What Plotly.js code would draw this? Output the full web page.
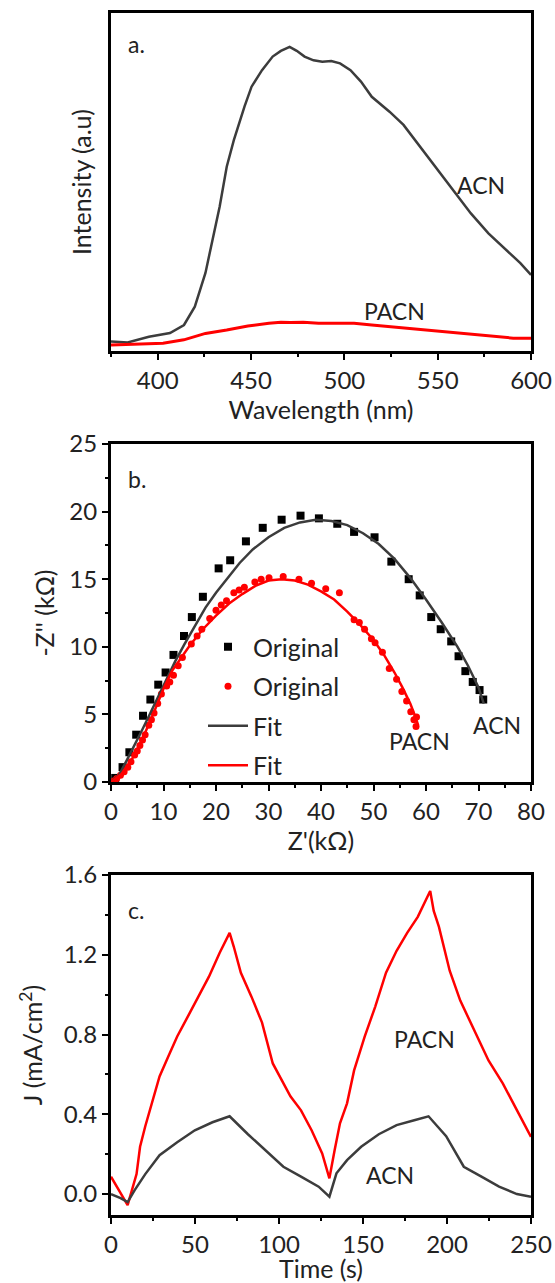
<!DOCTYPE html>
<html>
<head>
<meta charset="utf-8">
<script src="https://cdn.plot.ly/plotly-3.0.1.min.js"></script>
<style>html,body{margin:0;padding:0;background:#fff;}#chart{width:555px;height:1283px;}</style>
</head>
<body>
<div id="chart"></div>
<script>
// ---- Panel a: photoluminescence ----
const wl_acn  = [375, 383.9, 395.3, 406.6, 414.1, 419.9, 425.6, 429.4, 433.2, 437.0, 440.8, 446.5, 450.3, 455.9, 461.6, 466, 470.7, 474.5, 478.7, 483.5, 488.2, 493, 497.7, 503.3, 508.9, 514.7, 524.2, 531.7, 539.3, 548.8, 558.3, 567.8, 577.2, 586.7, 594.3, 600];
const int_acn = [2.8, 2.5, 4.2, 5.3, 7.7, 13.1, 23.1, 32.8, 42.7, 54.5, 62.4, 72.3, 78.2, 83.1, 87.1, 88.8, 90.0, 88.8, 87.1, 86.0, 85.6, 85.8, 85.1, 83.1, 79.7, 75.2, 70.8, 66.9, 61.4, 54.5, 47.6, 40.7, 34.8, 29.9, 26.0, 22.5];
const wl_pacn  = [375, 390, 402.9, 414, 425.6, 437, 448.3, 459.6, 466, 471.1, 478, 486.2, 495, 505.2, 514.7, 524, 533.6, 543, 552.6, 562, 571.6, 581, 590.5, 600];
const int_pacn = [1.8, 2.0, 2.3, 3.3, 5.2, 6.2, 7.4, 8.2, 8.5, 8.4, 8.5, 8.2, 8.2, 8.2, 7.7, 7.2, 6.7, 6.2, 5.7, 5.2, 4.7, 4.2, 3.8, 3.8];

// ---- Panel b: Nyquist plot ----
const zr_acn_orig = [0.8, 2.2, 3.5, 4.8, 6.1, 7.5, 9.0, 10.4, 11.9, 13.9, 15.4, 17.5, 20.5, 22.7, 25.7, 28.9, 32.5, 36.1, 39.6, 43.1, 46.3, 50.2, 53.4, 56.7, 58.8, 61.0, 62.8, 64.8, 66.2, 67.5, 68.9, 70.2, 70.9];
const zi_acn_orig = [0.3, 1.1, 2.2, 3.5, 4.9, 6.1, 7.2, 8.1, 9.4, 10.8, 12.2, 13.7, 15.8, 16.4, 17.8, 18.8, 19.4, 19.7, 19.5, 19.1, 18.5, 18.1, 16.3, 15.0, 13.8, 12.2, 11.3, 10.4, 9.3, 8.2, 7.4, 6.8, 6.1];
const zr_pacn_orig = [0.6, 1.1, 1.8, 2.5, 3.2, 3.8, 4.5, 5.0, 5.5, 6.0, 6.5, 7.2, 7.7, 8.2, 8.9, 9.6, 10.6, 11.2, 11.9, 12.8, 13.6, 15.3, 16.4, 17.3, 18.8, 20.0, 21.0, 22.0, 23.4, 24.4, 25.4, 27.4, 28.6, 30.1, 32.8, 35.8, 38.2, 40.9, 43.5, 46.3, 47.3, 48.3, 49.6, 50.3, 51.7, 53.0, 54.4, 55.4, 56.3, 57.1, 57.7, 58.1, 58.2];
const zi_pacn_orig = [0.1, 0.25, 0.5, 0.75, 1.1, 1.5, 2.0, 2.3, 2.7, 3.1, 3.5, 4.2, 4.6, 5.1, 5.8, 6.5, 7.1, 7.4, 7.9, 8.6, 9.2, 10.2, 10.8, 11.3, 12.1, 12.7, 13.1, 13.4, 14.0, 14.2, 14.4, 14.8, 15.0, 15.1, 15.2, 15.0, 14.7, 14.3, 14.0, 12.0, 11.8, 11.3, 10.6, 10.3, 9.6, 8.4, 7.6, 6.7, 6.0, 5.2, 4.6, 4.1, 4.8];
const zr_acn_fit = [0, 1.5, 3, 4.5, 6, 7.5, 9, 10.6, 12.2, 14, 16, 18, 20, 22, 24.5, 27, 30, 33, 36, 39, 42, 45, 48, 51, 54, 57, 60, 63, 66, 68, 70, 71];
const zi_acn_fit = [0, 0.5, 1.6, 2.7, 3.9, 5.1, 6.3, 7.6, 8.9, 10.2, 11.6, 12.9, 14.0, 15.0, 16.2, 17.2, 18.1, 18.8, 19.2, 19.4, 19.3, 19.0, 18.4, 17.6, 16.5, 15.1, 13.5, 11.8, 10.0, 8.6, 7.0, 5.8];
const zr_pacn_fit = [0, 2, 4, 6, 8, 10, 11.6, 13, 15, 17.5, 20, 22.5, 25, 27.5, 30, 32.5, 35, 37.5, 40, 42.5, 45, 47.5, 50, 52, 54, 55.5, 57, 58, 58.5];
const zi_pacn_fit = [0, 0.6, 1.7, 3.2, 5.0, 6.9, 8.2, 9.0, 10.1, 11.3, 12.3, 13.2, 13.9, 14.5, 14.9, 15.0, 14.9, 14.6, 14.1, 13.5, 12.6, 11.6, 10.5, 9.4, 8.1, 7.0, 5.8, 4.8, 4.2];

// ---- Panel c: photocurrent ----
const t_pacn = [0, 9.9, 15.2, 17.3, 20.4, 24.6, 28.9, 34.1, 39.4, 45.7, 52, 58.3, 64.7, 70.6, 73.1, 77.3, 83.6, 89.9, 96.3, 102.6, 106.8, 113.1, 119.4, 125.7, 130, 133.1, 136.3, 140.5, 144.7, 151, 157.3, 163.7, 170, 176.3, 182.6, 190, 192.1, 195.2, 201.6, 207.9, 216.3, 224.7, 233.2, 241.6, 250];
const j_pacn = [0.087, -0.055, 0.10, 0.237, 0.34, 0.47, 0.59, 0.69, 0.79, 0.89, 0.99, 1.09, 1.21, 1.31, 1.24, 1.11, 0.99, 0.86, 0.655, 0.555, 0.49, 0.42, 0.32, 0.204, 0.079, 0.22, 0.355, 0.455, 0.62, 0.79, 0.94, 1.11, 1.22, 1.31, 1.39, 1.52, 1.42, 1.34, 1.12, 0.97, 0.82, 0.67, 0.555, 0.42, 0.287];
const t_acn = [0, 5.7, 9.9, 14.1, 20.4, 28.9, 39.4, 49.9, 60.4, 70.6, 81.5, 92, 102.6, 113.1, 123.6, 130, 134.2, 140.5, 148.9, 159.4, 170, 180.5, 189, 199.5, 210, 220.5, 231, 241.6, 250];
const j_acn = [0.0, -0.02, -0.04, 0.02, 0.10, 0.195, 0.26, 0.32, 0.36, 0.39, 0.30, 0.22, 0.137, 0.087, 0.037, -0.013, 0.104, 0.17, 0.237, 0.30, 0.346, 0.37, 0.39, 0.29, 0.137, 0.087, 0.037, 0.0, -0.013];

const GRAY = '#3c3c3c', RED = '#ff0000', TXT = '#222222';
const FONT = 'Lato, "Open Sans", sans-serif';

const traces = [
  {x: wl_acn, y: int_acn, xaxis: 'x', yaxis: 'y', mode: 'lines', line: {color: GRAY, width: 2.5}, showlegend: false, name: 'ACN'},
  {x: wl_pacn, y: int_pacn, xaxis: 'x', yaxis: 'y', mode: 'lines', line: {color: RED, width: 3}, showlegend: false, name: 'PACN'},
  {x: zr_acn_orig, y: zi_acn_orig, xaxis: 'x2', yaxis: 'y2', mode: 'markers', marker: {symbol: 'square', size: 8, color: '#000'}, name: 'Original', legendgroup: 'g1'},
  {x: zr_pacn_orig, y: zi_pacn_orig, xaxis: 'x2', yaxis: 'y2', mode: 'markers', marker: {symbol: 'circle', size: 7, color: RED}, name: 'Original', legendgroup: 'g2'},
  {x: zr_acn_fit, y: zi_acn_fit, xaxis: 'x2', yaxis: 'y2', mode: 'lines', line: {color: GRAY, width: 2.5}, name: 'Fit', legendgroup: 'g3'},
  {x: zr_pacn_fit, y: zi_pacn_fit, xaxis: 'x2', yaxis: 'y2', mode: 'lines', line: {color: RED, width: 2.5}, name: 'Fit', legendgroup: 'g4'},
  {x: t_pacn, y: j_pacn, xaxis: 'x3', yaxis: 'y3', mode: 'lines', line: {color: RED, width: 2.5}, showlegend: false, name: 'PACN'},
  {x: t_acn, y: j_acn, xaxis: 'x3', yaxis: 'y3', mode: 'lines', line: {color: GRAY, width: 2.5}, showlegend: false, name: 'ACN'}
];

const MINOR = {ticks: 'outside', ticklen: 3, tickwidth: 2, tickcolor: '#000'};
function ax(extra) {
  return Object.assign({
    showline: true, linecolor: '#000', linewidth: 3, mirror: true,
    ticks: 'outside', ticklen: 6, tickwidth: 2, tickcolor: '#000',
    showgrid: false, zeroline: false, fixedrange: true,
    tickfont: {family: FONT, size: 24, color: TXT}
  }, extra);
}
const tfont = {family: FONT, size: 25, color: TXT};
const afont = {family: FONT, size: 23, color: TXT};
const W = 555, H = 1283;
const xd = [111 / W, 531 / W];

const layout = {
  width: W, height: H,
  margin: {l: 0, r: 0, t: 0, b: 0},
  paper_bgcolor: '#fff', plot_bgcolor: '#fff',
  font: {family: FONT, color: TXT},
  showlegend: true,
  legend: {
    x: 203 / W, y: 1 - 624 / H, xanchor: 'left', yanchor: 'top',
    bgcolor: 'rgba(0,0,0,0)', font: {family: FONT, size: 25, color: TXT},
    itemwidth: 40, tracegroupgap: 4
  },
  xaxis: ax({domain: xd, range: [375, 600], dtick: 50, tick0: 400, anchor: 'y',
    minor: Object.assign({dtick: 25, tick0: 375}, MINOR),
    title: {text: 'Wavelength (nm)', font: tfont, standoff: 4}}),
  yaxis: ax({domain: [1 - 351 / H, 1 - 13 / H], range: [0, 100], anchor: 'x',
    showticklabels: false, ticks: '',
    title: {text: 'Intensity (a.u)', font: tfont, standoff: 10}}),
  xaxis2: ax({domain: xd, range: [0, 80], dtick: 10, anchor: 'y2',
    minor: Object.assign({dtick: 5}, MINOR),
    title: {text: "Z'(kΩ)", font: tfont, standoff: 4}}),
  yaxis2: ax({domain: [1 - 782 / H, 1 - 444 / H], range: [0, 25], dtick: 5, anchor: 'x2',
    minor: Object.assign({dtick: 2.5}, MINOR),
    title: {text: "-Z'' (kΩ)", font: tfont, standoff: 8}}),
  xaxis3: ax({domain: xd, range: [0, 250], dtick: 50, anchor: 'y3',
    minor: Object.assign({dtick: 25}, MINOR),
    title: {text: 'Time (s)', font: tfont, standoff: 2}}),
  yaxis3: ax({domain: [1 - 1215 / H, 1 - 875 / H], range: [-0.105, 1.6], dtick: 0.4, tick0: 0, tickformat: '.1f', anchor: 'x3',
    minor: Object.assign({dtick: 0.2}, MINOR),
    title: {text: 'J (mA/cm<sup>2</sup>)', font: tfont, standoff: 14}}),
  annotations: [
    {xref: 'x domain', yref: 'y domain', x: 0.035, y: 0.955, text: 'a.', showarrow: false, xanchor: 'left', font: afont},
    {xref: 'x2 domain', yref: 'y2 domain', x: 0.035, y: 0.945, text: 'b.', showarrow: false, xanchor: 'left', font: afont},
    {xref: 'x3 domain', yref: 'y3 domain', x: 0.035, y: 0.945, text: 'c.', showarrow: false, xanchor: 'left', font: afont},
    {xref: 'x', yref: 'y', x: 573, y: 49, text: 'ACN', showarrow: false, font: afont},
    {xref: 'x', yref: 'y', x: 527, y: 11.8, text: 'PACN', showarrow: false, font: afont},
    {xref: 'x2', yref: 'y2', x: 73.6, y: 4.2, text: 'ACN', showarrow: false, font: afont},
    {xref: 'x2', yref: 'y2', x: 58.8, y: 3.0, text: 'PACN', showarrow: false, font: afont},
    {xref: 'x3', yref: 'y3', x: 186.8, y: 0.78, text: 'PACN', showarrow: false, font: afont},
    {xref: 'x3', yref: 'y3', x: 165.8, y: 0.095, text: 'ACN', showarrow: false, font: afont}
  ]
};

Plotly.newPlot('chart', traces, layout, {staticPlot: true, displayModeBar: false});
</script>
</body>
</html>
